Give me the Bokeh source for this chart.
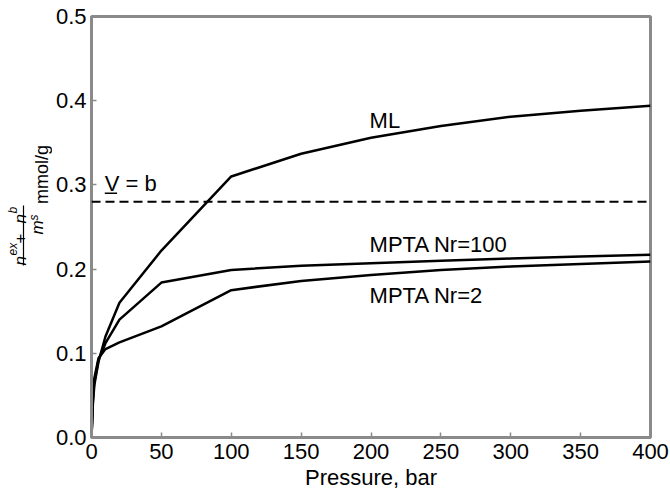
import math
from bokeh.plotting import figure
from bokeh.layouts import row
from bokeh.models import Label, Span, Arrow, FixedTicker, Range1d, CustomJSTickFormatter
from bokeh.embed import file_html
from bokeh.resources import INLINE

# ---- data ----
pressure = [0, 1, 2, 5, 10, 20, 50, 100, 150, 200, 250, 300, 350, 400]
ml = [0, 0.040, 0.062, 0.090, 0.120, 0.160, 0.222, 0.310, 0.337, 0.356, 0.370, 0.381, 0.388, 0.394]
mpta_nr100 = [0, 0.045, 0.066, 0.092, 0.112, 0.140, 0.184, 0.199, 0.204, 0.207, 0.210, 0.2125, 0.215, 0.217]
mpta_nr2 = [0, 0.050, 0.070, 0.094, 0.105, 0.113, 0.132, 0.175, 0.186, 0.193, 0.199, 0.203, 0.206, 0.209]
b_value = 0.28
x_ticks = [0, 50, 100, 150, 200, 250, 300, 350, 400]
y_ticks = [0.0, 0.1, 0.2, 0.3, 0.4, 0.5]

FONT = "Liberation Sans"
GREY = "#8a8a8a"
LEFT_W = 52
H = 494
TOP = 16
BOTTOM = 57

# ---- main plot ----
p = figure(width=670 - LEFT_W, height=H, output_backend="svg", toolbar_location=None,
           x_range=Range1d(0, 400), y_range=Range1d(0, 0.5),
           min_border_left=91 - LEFT_W, min_border_right=20,
           min_border_top=TOP, min_border_bottom=BOTTOM)

p.background_fill_color = "white"
p.border_fill_color = "white"
p.outline_line_color = GREY
p.outline_line_width = 3
p.xgrid.visible = False
p.ygrid.visible = False

for ax in (p.xaxis[0], p.yaxis[0]):
    ax.axis_line_color = GREY
    ax.axis_line_width = 3
    ax.major_tick_line_color = GREY
    ax.major_tick_line_width = 1.5
    ax.major_tick_in = 5
    ax.major_tick_out = 0
    ax.minor_tick_line_color = None
    ax.major_label_text_font = FONT
    ax.major_label_text_font_size = "22px"
    ax.major_label_text_color = "black"

p.xaxis.ticker = FixedTicker(ticks=x_ticks)
p.yaxis.ticker = FixedTicker(ticks=y_ticks)
p.yaxis.formatter = CustomJSTickFormatter(code="return tick.toFixed(1);")
p.xaxis.major_label_standoff = 6
p.yaxis.major_label_standoff = 5
p.xaxis.axis_label = "Pressure, bar"
p.xaxis.axis_label_text_font = FONT
p.xaxis.axis_label_text_font_size = "22px"
p.xaxis.axis_label_text_font_style = "normal"
p.xaxis.axis_label_text_color = "black"
p.xaxis.axis_label_standoff = 3

for series in (ml, mpta_nr100, mpta_nr2):
    p.line(pressure, series, line_color="black", line_width=2.5)

p.add_layout(Span(location=b_value, dimension="width", line_color="black",
                  line_width=2, line_dash="9 5"))

def lab(fig, text, x, y, size, style="normal", angle=0.0, align="left", baseline="middle"):
    fig.add_layout(Label(x=x, y=y, text=text, text_font=FONT, text_font_size=size,
                         text_font_style=style, text_color="black", angle=angle,
                         text_align=align, text_baseline=baseline))

lab(p, "ML", 199, 0.376, "22px")
lab(p, "MPTA Nr=100", 199, 0.229, "22px")
lab(p, "MPTA Nr=2", 199, 0.169, "22px")
lab(p, "V = b", 9.5, 0.302, "22px")
p.add_layout(Arrow(x_start=9.5, y_start=0.290, x_end=18.3, y_end=0.290, start=None, end=None,
                   line_color="black", line_width=1.5))

# ---- y-axis label panel (pixel coordinates, y from top of window) ----
q = figure(width=LEFT_W, height=H, output_backend="svg", toolbar_location=None,
           x_range=Range1d(0, LEFT_W), y_range=Range1d(BOTTOM, H - TOP),
           x_axis_location=None, y_axis_location=None,
           min_border_left=0, min_border_right=0,
           min_border_top=TOP, min_border_bottom=BOTTOM)
q.outline_line_color = None
q.xgrid.visible = False
q.ygrid.visible = False
q.background_fill_color = "white"
q.border_fill_color = "white"

def Y(py):
    return H - py

R = math.pi / 2
lab(q, "mmol/g", 41, Y(174), "18px", angle=R, align="center", baseline="alphabetic")
lab(q, "n", 20, Y(265), "17px", style="italic", angle=R, baseline="alphabetic")
lab(q, "ex", 12, Y(255), "12px", style="italic", angle=R, baseline="alphabetic")
lab(q, " + ", 20, Y(243), "17px", angle=R, baseline="alphabetic")
lab(q, "n", 20, Y(223), "17px", style="italic", angle=R, baseline="alphabetic")
lab(q, "b", 12, Y(213), "12px", style="italic", angle=R, baseline="alphabetic")
q.add_layout(Arrow(x_start=23, y_start=Y(265), x_end=23, y_end=Y(205), start=None, end=None,
                   line_color="black", line_width=1.2))
lab(q, "m", 37, Y(234), "17px", style="italic", angle=R, baseline="alphabetic")
lab(q, "s", 33, Y(220), "12px", style="italic", angle=R, baseline="alphabetic")

layout = row(q, p, spacing=0)
open("out.html", "w").write(file_html(layout, INLINE))
